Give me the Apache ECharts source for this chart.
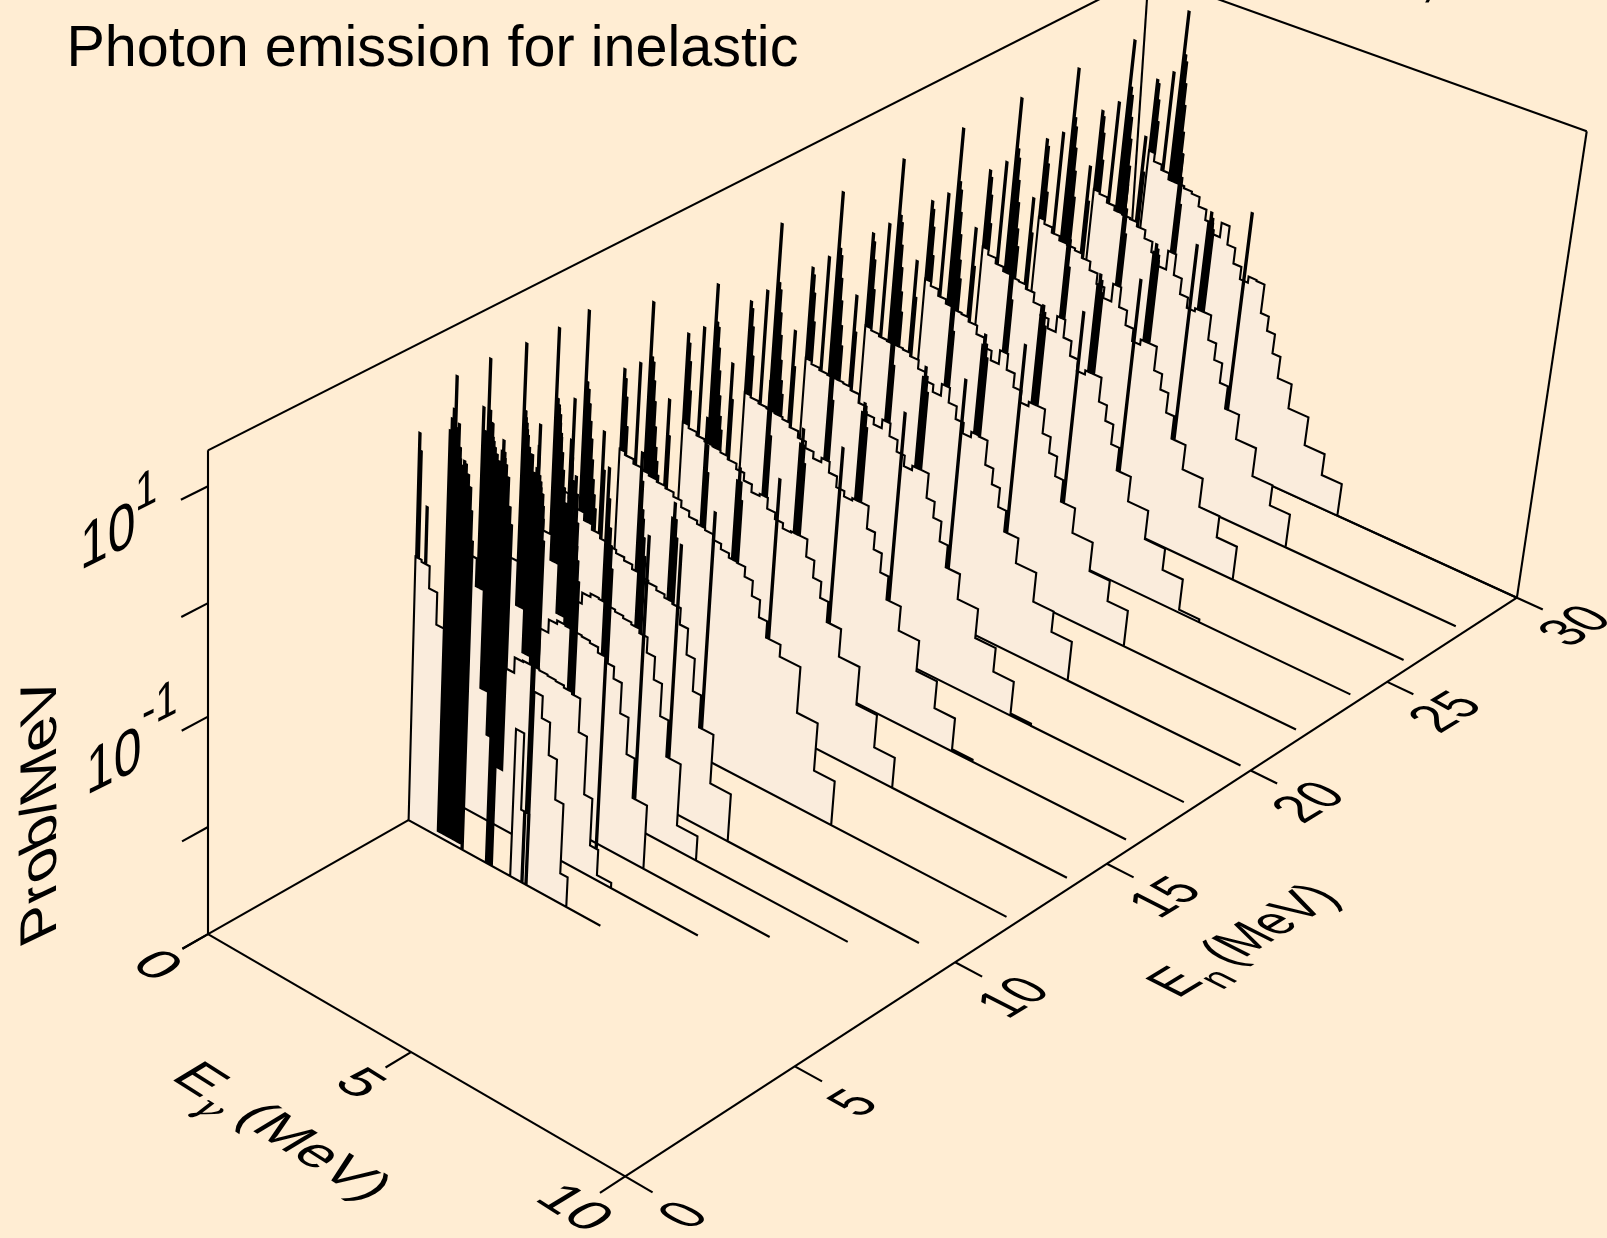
<!DOCTYPE html>
<html><head><meta charset="utf-8">
<style>html,body{margin:0;padding:0;background:#ffedd3}#c{width:1607px;height:1238px}</style>
<script src="https://cdn.jsdelivr.net/npm/echarts@6/dist/echarts.min.js"></script>
</head><body><div id="c"></div>
<script>
// ---- data (log10 of Prob/MeV) ----
const gammaEdges=[0,.15,.35,.55,.75,.95,1.15,1.35,1.55,1.75,1.95,2.15,2.35,2.55,2.75,2.95,3.15,3.35,3.55,3.75,4.1,4.6,5.1,5.6,6.1];
const incidentEnergies=[30,28,26,24,22,20,18,16,14,12,10,9,8,7,5.85];
const gammaMaxima=[10,9.76,9.76,9.76,9.76,9.76,9.76,9.76,9.76,9.76,9.16,8.23,7.14,6.2,4.76];
const cont30=[-.35,-.43,-.48,-.54,-.54,-.56,-.58,-.67,-.77,-.87,-.73,-.91,-1.06,-1.18,-1.12,-1.13,-1.41,-1.55,-1.74,-1.95,-2.19,-2.47,-2.68];
const cont28=[-.45,-.47,-.52,-.56,-.57,-.58,-.62,-.70,-.80,-.90,-.72,-.92,-1.07,-1.17,-1.14,-1.14,-1.38,-1.54,-1.73,-1.95,-2.19,-2.47,-2.67];
const cont26=[-.44,-.48,-.53,-.57,-.58,-.60,-.64,-.72,-.82,-.92,-.75,-.94,-1.08,-1.20,-1.15,-1.15,-1.38,-1.53,-1.72,-1.94,-2.18,-2.46,-2.67];
const cont24=[-.44,-.49,-.54,-.58,-.60,-.61,-.65,-.74,-.83,-.92,-.77,-.94,-1.08,-1.19,-1.15,-1.15,-1.38,-1.53,-1.72,-1.94,-2.18,-2.46,-2.67,-2.97];
const cont22=[-.46,-.50,-.56,-.60,-.62,-.63,-.67,-.75,-.84,-.93,-.80,-.95,-1.08,-1.19,-1.15,-1.15,-1.38,-1.53,-1.72,-1.93,-2.17,-2.45,-2.65];
const cont20=[-.61,-.63,-.65,-.66,-.66,-.67,-.70,-.78,-.86,-.93,-.82,-.96,-1.08,-1.18,-1.13,-1.14,-1.37,-1.52,-1.70,-1.90,-2.14,-2.42,-2.62];
const cont18=[-.62,-.65,-.67,-.68,-.68,-.69,-.72,-.80,-.87,-.93,-.85,-.97,-1.08,-1.18,-1.14,-1.14,-1.37,-1.52,-1.71,-1.92,-2.16,-2.44,-2.67,-2.98];
const cont16=[-.64,-.66,-.68,-.69,-.70,-.72,-.76,-.82,-.88,-.94,-.90,-1.00,-1.10,-1.15,-1.13,-1.13,-1.34,-1.50,-1.68,-1.90,-2.13,-2.42,-2.68,-2.98];
const cont14=[-.61,-.64,-.67,-.69,-.70,-.72,-.75,-.80,-.87,-.94,-.92,-1.02,-1.08,-1.13,-1.12,-1.12,-1.28,-1.44,-1.59,-1.78,-2.04,-2.40,-2.71];
const cont12=[-.55,-.58,-.62,-.64,-.66,-.68,-.70,-.74,-.80,-.85,-.88,-.90,-.95,-1.00,-1.04,-1.05,-1.14,-1.28,-1.44,-1.59,-1.70,-2.13,-2.58];
const cont10=[-.55,-.58,-.62,-.68,-.75,-.80,-.84,-.87,-.90,-.93,-.97,-1.00,-1.02,-1.05,-1.08,-1.10,-1.25,-1.49,-1.79,-2.09,-2.55];
const cont9=[-.55,-.58,-.62,-.72,-.95,-1.40,-1.50,-1.20,-1.10,-1.07,-1.08,-1.10,-1.12,-1.14,-1.16,-1.20,-1.34,-1.55,-1.85,-2.19,-2.77];
const cont8=[-.50,-.53,-.62,-.80,-1.20,-1.60,-1.80,-1.30,-1.18,-1.15,-1.16,-1.17,-1.18,-1.20,-1.25,-1.30,-1.41,-1.69,-2.03,-2.40];
const cont7=[-.50,-.54,-.65,-.90,-1.80,-2.20,-2.45,-1.50,-1.36,-1.35,-1.35,-1.36,-1.37,-1.38,-1.40,-1.42,-1.73,-2.27,-2.71,-2.95];
const cont6=[-.55,-.57,-.77,-1.06,-2.95,-2.95,-2.95,-3,-3,-3,-3,-3,-3,-1.62,-2.33,-1.20,-1.40,-1.70,-2.07,-2.72];
const lastEdge6=3.93;
// discrete lines: [E gamma, log10 Prob/MeV]
const lines30=[[.02,.33],[.06,.30],[.10,.15],[.14,-.05],[.39,.46],[.58,1.06],[.62,.66],[.66,.60],[.70,.40],[.74,.20],[.78,-.05],[.82,-.25]];
const lines28=[[.02,.30],[.06,.25],[.10,.10],[.14,-.15],[.39,.44],[.60,1.05],[.64,.62],[.68,.55],[.72,.35],[.76,.15],[.80,-.10],[1.11,.23],[1.15,-.10],[2.03,.21],[2.07,.00],[2.11,-.25],[2.83,-.30],[2.87,-.20],[2.91,-.25],[2.95,-.35],[3.81,-.05]];
const lines26=[[.02,.30],[.06,.24],[.10,.08],[.14,-.18],[.39,.42],[.60,1.05],[.64,.60],[.68,.52],[.72,.33],[.76,.12],[.80,-.12],[1.11,.22],[1.15,-.10],[2.03,.20],[2.07,-.02],[2.11,-.25],[2.83,-.30],[2.87,-.22],[2.91,-.26],[2.95,-.36],[3.81,-.07]];
const lines24=[[.02,.28],[.06,.22],[.10,.06],[.14,-.20],[.39,.42],[.60,1.04],[.64,.58],[.68,.50],[.72,.30],[.76,.10],[.80,-.14],[.84,-.30],[1.11,.20],[1.15,-.12],[2.03,.20],[2.07,-.03],[2.11,-.28],[2.83,-.32],[2.87,-.22],[2.91,-.27],[2.95,-.38],[3.81,-.11]];
const lines22=[[.02,.27],[.06,.20],[.10,.04],[.14,-.22],[.39,.40],[.60,1.03],[.64,.55],[.68,.48],[.72,.28],[.76,.08],[.80,-.15],[.84,-.32],[1.11,.20],[1.15,-.15],[2.03,.18],[2.07,-.05],[2.11,-.30],[2.83,-.32],[2.87,-.22],[2.91,-.28],[2.95,-.40],[3.81,-.12]];
const lines20=[[.02,.25],[.06,.18],[.10,.02],[.14,-.25],[.39,.40],[.60,1.02],[.64,.52],[.68,.46],[.72,.26],[.76,.06],[.80,-.16],[.84,-.34],[1.11,.18],[1.15,-.15],[2.03,.18],[2.07,-.05],[2.11,-.30],[2.83,-.30],[2.87,-.20],[2.91,-.28],[2.95,-.40],[3.81,-.13]];
const lines18=[[.02,.22],[.06,.16],[.10,.00],[.14,-.26],[.39,.38],[.60,1.00],[.64,.50],[.68,.44],[.72,.24],[.76,.04],[.80,-.18],[.84,-.36],[1.11,.15],[1.15,-.18],[2.03,.15],[2.07,-.08],[2.11,-.32],[2.83,-.30],[2.87,-.20],[2.91,-.28],[2.95,-.42],[3.81,-.15]];
const lines16=[[.02,.20],[.06,.14],[.10,-.02],[.14,-.28],[.39,.36],[.62,1.00],[.66,.48],[.70,.42],[.74,.22],[.78,.02],[.82,-.20],[.86,-.38],[.90,-.50],[1.11,.12],[1.15,-.20],[2.03,.15],[2.07,-.10],[2.11,-.34],[2.83,-.32],[2.87,-.23],[2.91,-.30],[2.95,-.44],[3.81,-.15]];
const lines14=[[.02,.20],[.06,.12],[.10,-.04],[.14,-.30],[.39,.32],[.65,.75],[.69,.42],[.73,.38],[.77,.20],[.81,.00],[.85,-.22],[.89,-.40],[.93,-.52],[1.11,.12],[1.15,-.20],[2.03,.12],[2.07,-.12],[2.11,-.36],[2.83,-.30],[2.87,-.16],[2.91,-.30],[2.95,-.46],[3.81,-.16]];
const lines12=[[.03,.18],[.07,.10],[.11,-.06],[.15,-.32],[.40,.30],[.63,.88],[.67,.40],[.71,.36],[.75,.20],[.79,.02],[.83,-.20],[.87,-.38],[.91,-.50],[.95,-.62],[1.13,.10],[1.17,-.22],[2.05,.10],[2.09,-.14],[2.13,-.38],[2.84,-.32],[2.88,-.20],[2.92,-.32],[2.96,-.48],[3.81,-.13]];
const lines10=[[.03,.16],[.07,.08],[.11,-.08],[.40,.28],[.64,1.10],[.68,.48],[.72,.42],[.76,.30],[.80,.15],[.84,.00],[.88,-.18],[.92,-.35],[.96,-.48],[1.00,-.60],[1.13,.12],[1.17,-.22],[2.05,.10],[2.09,-.15],[2.13,-.40],[2.84,-.34],[2.88,-.20],[2.92,-.34],[2.96,-.50],[3.81,-.11]];
const lines9=[[.03,.20],[.07,.10],[.38,.20],[.73,1.11],[.77,.50],[.81,.42],[.85,.30],[.89,.18],[.93,.05],[.97,-.10],[1.01,-.25],[1.05,-.38],[1.13,.20],[1.17,.05],[1.22,-.15],[2.05,.12],[2.09,-.15],[2.13,-.42],[2.86,-.34],[2.90,-.18],[2.94,-.34],[2.98,-.50],[3.81,-.24]];
const lines8=[[.03,.30],[.07,.15],[.34,.10],[.76,1.13],[.80,.55],[.84,.45],[.88,.35],[.92,.25],[.96,.15],[1.00,.20],[1.06,.05],[1.12,.10],[1.15,.30],[1.19,.05],[1.23,-.05],[1.28,-.10],[2.01,-.20],[2.05,.20],[2.09,.05],[2.13,-.20],[2.86,-.30],[2.90,-.10],[2.94,-.25],[2.98,-.45],[3.80,0]];
const lines7=[[.03,.45],[.07,.25],[.28,-.05],[.60,.70],[.64,.40],[.68,.50],[.72,1.14],[.76,.70],[.80,.60],[.84,.48],[.90,.40],[.95,.35],[1.01,.30],[1.07,.40],[1.10,.50],[1.14,.35],[1.18,.30],[1.24,.20],[1.30,-.05],[1.35,-.20],[1.96,.00],[2.00,.30],[2.04,.20],[2.08,.10],[2.12,-.20],[2.86,-.30],[2.90,-.10],[2.94,-.22],[2.98,-.40],[3.70,-.30]];
const lines6=[[.03,.55],[.07,.40],[.25,-.06],[.75,.70],[.79,.81],[.83,.90],[.87,1.19],[.91,.75],[.95,.60],[1.01,.50],[1.07,.45],[1.11,.50],[1.15,.48],[1.21,.40],[1.27,.30],[1.31,.10],[1.35,-.16],[1.96,.10],[2.00,.25],[2.04,.05],[2.08,-.30],[2.84,-3],[2.88,-.30],[2.92,.00],[2.94,-3]];
const continua=[cont30,cont28,cont26,cont24,cont22,cont20,cont18,cont16,cont14,cont12,cont10,cont9,cont8,cont7,cont6];
const lineSets=[lines30,lines28,lines26,lines24,lines22,lines20,lines18,lines16,lines14,lines12,lines10,lines9,lines8,lines7,lines6];
const gammaTicks=[0,5,10];
const energyTicks=[0,5,10,15,20,25,30];
const probTicks=[-3,-2,-1,0,1];
const titleText='Photon emission for inelastic';

// ---- oblique perspective scale of the three axes ----
const axisRange={g:[0,10],n:[0,30],p:[-3,Math.log10(20)]};
function project(g,n,p){
  const L=p+3, D=1-.00523*g+.005525*n-.014*L;
  return [(208+38.45*g+36.55*n-2.912*L)/D,(934.2+18.07*g-14.98*n-118.8*L)/D];
}
const LW=2.1, INK='#000', FILL='#faecdc', LINE_HALF=.015;
const FONT='"Liberation Sans"', BASE=40;

function spectrumPath(i){
  const logs=continua[i],n=incidentEnergies[i],lines=lineSets[i],pts=[];
  const add=(g,p)=>pts.push(project(g,n,p));
  add(0,-3);
  let hi=0;
  logs.forEach((v,k)=>{
    const lo=gammaEdges[k];
    hi=(i===14&&k===logs.length-1)?lastEdge6:gammaEdges[k+1];
    add(lo,v);
    lines.filter(l=>l[0]>=lo&&l[0]<hi).forEach(l=>{
      add(l[0]-LINE_HALF,v);add(l[0]-LINE_HALF,l[1]);add(l[0]+LINE_HALF,l[1]);add(l[0]+LINE_HALF,v);
    });
    add(hi,v);
  });
  add(hi,-3);
  add(gammaMaxima[i],-3);
  return pts;
}
function seg(api,a,b){
  const p=api.coord(a),q=api.coord(b);
  return {type:'line',shape:{x1:p[0],y1:p[1],x2:q[0],y2:q[1]},style:{stroke:INK,lineWidth:LW,lineCap:'butt'},silent:true};
}
function frameItems(){
  const [g0,g1]=axisRange.g,[n0,n1]=axisRange.n,[p0,p1]=axisRange.p;
  const P=project;
  const far=P(g0,n1,p1),right=P(g1,n1,p1);
  far[0]-=20;far[1]-=2;right[0]-=5;right[1]-=15.5;   // the box top is a little tighter than the floor's perspective
  const e=[
    [P(g0,n0,p0),P(g1,n0,p0)],[P(g1,n0,p0),P(g1,n1,p0)],[P(g0,n0,p0),P(g0,n1,p0)],[P(g0,n1,p0),P(g1,n1,p0)],
    [P(g0,n0,p0),P(g0,n0,p1)],[P(g0,n1,p0),far],[P(g1,n1,p0),right],
    [P(g0,n0,p1),far],[far,right]
  ];
  gammaTicks.forEach(t=>e.push([P(t,0,-3),P(t,-.72,-3)]));
  energyTicks.forEach(t=>e.push([P(10,t,-3),P(10.62,t,-3)]));
  probTicks.forEach(t=>e.push([P(0,0,t),P(0,-.72,t)]));
  return e;
}
const frame=frameItems();

// text laid in the plane of an axis wall: u = baseline per em, w = downward per em
function planeText(api,o,u,w,parts){
  const a=u[0]/BASE,b=w[0]/BASE,c=u[1]/BASE,d=w[1]/BASE;
  const E=(a+d)/2,F=(a-d)/2,G=(c+b)/2,H=(c-b)/2;
  const Q=Math.hypot(E,H),R=Math.hypot(F,G),a1=Math.atan2(G,F),a2=Math.atan2(H,E);
  const sx=Q+R,sy=Q-R,theta=(a2-a1)/2,phi=(a2+a1)/2;
  const p=api.coord(o);
  return {type:'group',x:p[0],y:p[1],rotation:-phi,scaleX:sx,scaleY:sy,silent:true,children:[
    {type:'group',rotation:-theta,children:parts.map(t=>({
      type:'text',x:t.x*BASE,y:(t.y-.3465*(t.s||1))*BASE,
      style:{text:t.t,fontFamily:t.f||FONT,fontSize:BASE*(t.s||1),fontStyle:t.i?'italic':'normal',fill:INK,textAlign:'left',textVerticalAlign:'middle'}
    }))}
  ]};
}
const add2=(a,b,k)=>[a[0]+b[0]*k,a[1]+b[1]*k];
const centred=(c,u,w,em)=>add2(add2(c,u,-em/2),w,.358);
function labelItems(api){
  const out=[];
  const fu=[49,31],fw=[-46.2,27.9];          // floor, along E gamma
  const eu=[41,-25],ew=[52,26.5];            // floor, along En
  const zu=[50,-25],zw=[0,64];               // wall, En-Prob
  gammaTicks.forEach(t=>{
    const p=project(t,0,-3),s=String(t);
    out.push(planeText(api,centred([p[0]-52,p[1]+32],fu,fw,.556*s.length),fu,fw,[{t:s,x:0,y:0}]));
  });
  energyTicks.forEach(t=>{
    const p=project(10,t,-3),s=String(t);
    out.push(planeText(api,centred([p[0]+60,p[1]+29+(30-t)*.35],eu,ew,.556*s.length),eu,ew,[{t:s,x:0,y:0}]));
  });
  out.push(planeText(api,[166,1080],fu,fw,[{t:'E',x:0,y:0},{t:'γ',x:.68,y:.3,s:.7,i:true,f:'"DejaVu Serif"'},{t:'(MeV)',x:1.3,y:0}]));
  out.push(planeText(api,[1181.4,1000.7],eu,ew,[{t:'E',x:0,y:0},{t:'n',x:.68,y:.3,s:.75},{t:'(MeV)',x:1.28,y:0}]));
  out.push(planeText(api,[80,575],zu,zw,[{t:'10',x:0,y:0},{t:'1',x:1.1,y:-.5,s:.8}]));
  out.push(planeText(api,[86,800],zu,zw,[{t:'10',x:0,y:0},{t:'-1',x:1.12,y:-.6,s:.8}]));
  out.push(planeText(api,[60,932],[0,-59],[51.6,-25],[{t:'Prob/MeV',x:0,y:0}]));
  out.push(planeText(api,[66.5,70.5],[57.5,0],[0,57.5],[{t:titleText,x:0,y:0}]));
  out.push(planeText(api,[1420,-1],[57.5,0],[0,57.5],[{t:',',x:0,y:0}]));
  return out;
}
const chart=echarts.init(document.getElementById('c'),null,{renderer:'canvas'});
chart.setOption({
  animation:false,backgroundColor:'#ffedd3',
  grid:{left:0,right:0,top:0,bottom:0},
  xAxis:{type:'value',min:0,max:1607,show:false},
  yAxis:{type:'value',min:0,max:1238,inverse:true,show:false},
  series:[
    {type:'custom',name:'frame',coordinateSystem:'cartesian2d',clip:false,silent:true,data:frame.map((_,i)=>[i]),
     renderItem:(params,api)=>{const e=frame[params.dataIndex];return seg(api,e[0],e[1]);}},
    {type:'custom',name:'spectra',coordinateSystem:'cartesian2d',clip:false,silent:true,data:incidentEnergies.map((_,i)=>[i]),
     renderItem:(params,api)=>{
       const pts=spectrumPath(params.dataIndex).map(p=>api.coord(p));
       return {type:'group',silent:true,children:[
         {type:'polygon',shape:{points:pts},style:{fill:FILL,stroke:INK,lineWidth:LW,lineJoin:'miter',miterLimit:2}}
       ]};
     }},
    {type:'custom',name:'labels',coordinateSystem:'cartesian2d',clip:false,silent:true,data:[[0]],
     renderItem:(params,api)=>({type:'group',silent:true,children:labelItems(api)})}
  ]
});
</script></body></html>
